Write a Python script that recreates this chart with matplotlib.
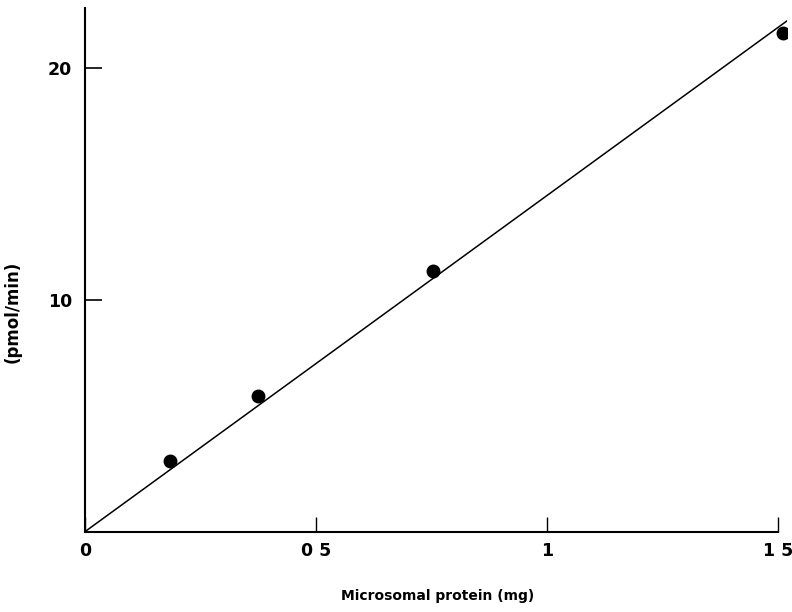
import matplotlib.pyplot as plt

protein = [0.185, 0.374, 0.753, 1.51]
rate = [3.05, 5.85, 11.25, 21.5]

line_x = [0, 1.52]
line_y = [0, 22.05]

x_ticks = [0, 0.5, 1, 1.5]
x_labels = ["0", "0 5", "1", "1 5"]
y_ticks = [10, 20]
y_labels = ["10", "20"]

plt.rcParams['font.family'] = ['DejaVu Sans']

fig = plt.figure(figsize=(7.92, 6.12), dpi=100)
ax = fig.add_axes([0.107, 0.131, 0.887, 0.856])

ax.plot(line_x, line_y, color='black', lw=1.1)
ax.plot(protein, rate, 'o', color='black', ms=9)

ax.set_xlim(0, 1.52)
ax.set_ylim(0, 22.6)
ax.spines['top'].set_visible(False)
ax.spines['right'].set_visible(False)
ax.spines['bottom'].set_bounds(0, 1.5)
ax.spines['left'].set_linewidth(1.5)
ax.spines['bottom'].set_linewidth(1.5)

ax.set_xticks(x_ticks)
ax.set_xticklabels(x_labels, fontsize=12.5, fontweight='bold')
ax.set_yticks(y_ticks)
ax.set_yticklabels(y_labels, fontsize=12.5, fontweight='bold')
ax.tick_params(axis='x', direction='in', length=11, width=1, pad=7)
ax.tick_params(axis='y', direction='in', length=12, width=1.2, pad=9)

ax.set_xlabel("Microsomal protein (mg)", fontsize=10, fontweight='bold')
ax.set_ylabel("(pmol/min)", fontsize=12, fontweight='bold')
ax.xaxis.set_label_coords(0.502, -0.109)
ax.yaxis.set_label_coords(-0.09, 0.42)

fig.savefig("out.png", dpi=100)
